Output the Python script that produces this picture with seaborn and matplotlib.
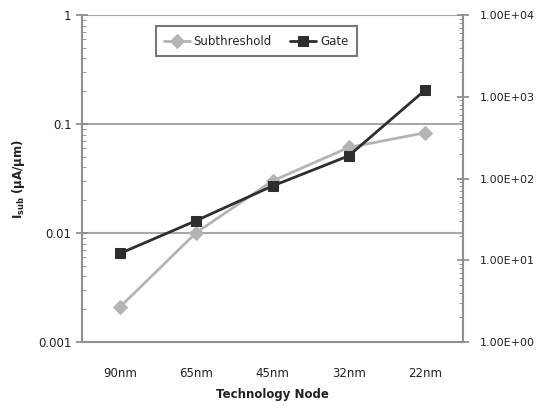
import matplotlib
matplotlib.use("Agg")
import matplotlib.pyplot as plt
import matplotlib.ticker as mticker
import numpy as np
import pandas as pd
import seaborn as sns

nodes = ["90nm", "65nm", "45nm", "32nm", "22nm"]
subthreshold = [0.0021, 0.0101, 0.030, 0.061, 0.083]
gate = [0.0065, 0.013, 0.027, 0.051, 0.204]
right_ticks = [1, 10, 100, 1000, 10000]
right_labels = ["1.00E+00", "1.00E+01", "1.00E+02", "1.00E+03", "1.00E+04"]

sns.set_style("white")
plt.rcParams['font.family'] = ['DejaVu Sans']

df = pd.DataFrame({
    "pos": list(range(len(nodes))) * 2,
    "val": subthreshold + gate,
    "series": ["Subthreshold"] * len(nodes) + ["Gate"] * len(nodes),
})

fig = plt.figure(figsize=(5.41, 4.12), dpi=100)
ax = fig.add_axes([82 / 541, 1 - 342 / 412, (463 - 82) / 541, (342 - 15) / 412])

sns.lineplot(data=df, x="pos", y="val", hue="series", style="series",
             palette={"Subthreshold": "#b4b4b4", "Gate": "#2e2e2e"},
             markers={"Subthreshold": "D", "Gate": "s"},
             dashes=False, markersize=7, linewidth=2, ax=ax)
for line in ax.lines:
    line.set_markeredgecolor(line.get_color())

ax.set_yscale("log")
ax.set_ylim(0.001, 1)
ax.set_xlim(-0.5, 4.5)
ax.set_xticks(range(len(nodes)))
ax.set_xticklabels(nodes, fontsize=8.5, color="#222222")
ax.xaxis.set_minor_locator(mticker.FixedLocator(np.arange(-0.5, 4.6, 1)))
ax.tick_params(axis="x", which="major", length=0, pad=18)
ax.tick_params(axis="x", which="minor", length=4, direction="in", color="#888888")
ax.set_yticks([0.001, 0.01, 0.1, 1])
ax.set_yticklabels(["0.001", "0.01", "0.1", "1"], fontsize=8.5, color="#222222")
ax.tick_params(axis="y", which="major", length=8, direction="inout", color="#888888", width=1.2)
ax.tick_params(axis="y", which="minor", length=3, direction="in", color="#888888")
ax.grid(False)
for v in [0.01, 0.1, 1]:
    ax.axhline(v, color="#a8a8a8", linewidth=1.5, zorder=0)

ax.spines["top"].set_visible(False)
for s in ["left", "bottom", "right"]:
    ax.spines[s].set_color("#909090")
    ax.spines[s].set_linewidth(1.5)

ax.set_xlabel("Technology Node", fontsize=8.5, fontweight="bold", color="#222222", labelpad=6)
ax.set_ylabel(r"I$_{\mathbf{sub}}$ (μA/μm)", fontsize=8.5, fontweight="bold", color="#222222", labelpad=8)

ax2 = ax.twinx()
ax2.set_yscale("log")
ax2.set_ylim(1, 10000)
ax2.set_yticks(right_ticks)
ax2.set_yticklabels(right_labels, fontsize=8, color="#222222")
ax2.tick_params(axis="y", which="major", length=8, direction="inout", color="#888888", width=1.2, pad=8)
ax2.tick_params(axis="y", which="minor", length=3, direction="in", color="#888888")
for s in ["top", "left", "bottom"]:
    ax2.spines[s].set_visible(False)
ax2.spines["right"].set_color("#909090")
ax2.spines["right"].set_linewidth(1.5)

ax.get_legend().remove()
handles, labels = ax.get_legend_handles_labels()
leg = ax.legend(handles, labels, loc="upper center", bbox_to_anchor=(0.457, 0.965), ncol=2,
                frameon=True, fancybox=False, fontsize=8.5, handlelength=2.2,
                columnspacing=1.6, handletextpad=0.3, borderpad=0.7, borderaxespad=0)
leg.get_frame().set_edgecolor("#555555")
leg.get_frame().set_linewidth(1.5)
leg.set_zorder(10)

fig.savefig("out.png", dpi=100)
